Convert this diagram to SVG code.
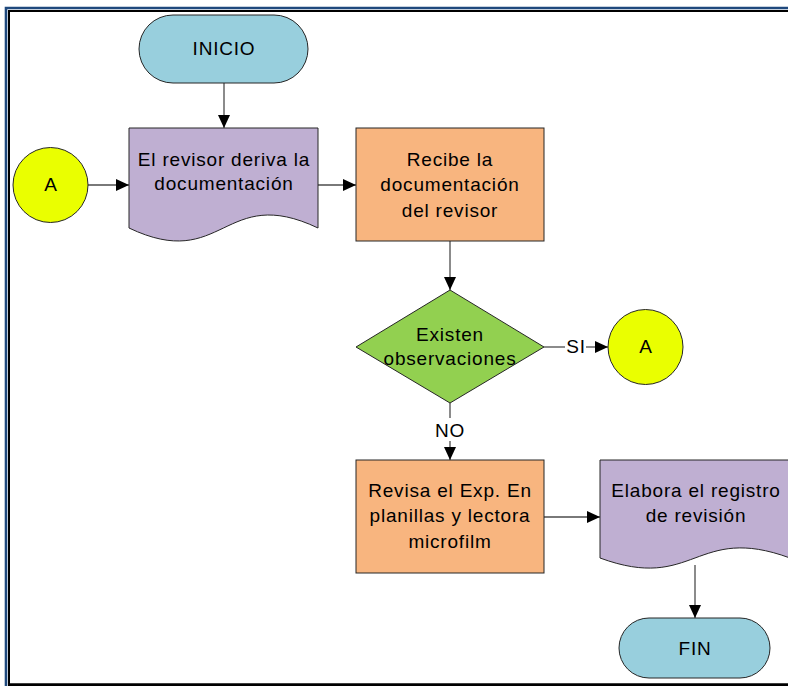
<svg xmlns="http://www.w3.org/2000/svg" width="788" height="686" viewBox="0 0 788 686">
<defs>
<marker id="ah" viewBox="0 0 13 12" refX="13" refY="6" markerWidth="13" markerHeight="12" markerUnits="userSpaceOnUse" orient="auto">
<path d="M0,0 L13,6 L0,12 Z" fill="#000"/>
</marker>
<style>
.t{font-family:"Liberation Sans",Arial,sans-serif;font-size:19px;letter-spacing:0.8px;fill:#000;text-anchor:middle}
.s{stroke:#262626;stroke-width:1}
.term{fill:#98CFDD}
.doc{fill:#BFAFD2}
.proc{fill:#F8B57F}
.dec{fill:#92D050}
.conn{fill:#EAFF00}
.c{fill:none;stroke:#4d4d4d;stroke-width:1.3}
</style>
</defs>
<rect width="788" height="686" fill="#fff"/>
<g id="frame" fill="none">
<path d="M6,686 V8 H788" stroke="#1F497D" stroke-width="2.6"/>
<path d="M9,686 V11 H788" stroke="#000" stroke-width="2"/>
<path d="M9,684.8 H788" stroke="#000" stroke-width="3"/>
</g>
<g id="connectors">
<path class="c" d="M224,83 V128" marker-end="url(#ah)"/>
<path class="c" d="M88,185 H129" marker-end="url(#ah)"/>
<path class="c" d="M318,185 H356" marker-end="url(#ah)"/>
<path class="c" d="M450,241 V290" marker-end="url(#ah)"/>
<path class="c" d="M544,347 H565"/>
<path class="c" d="M586,347 H608" marker-end="url(#ah)"/>
<path class="c" d="M450,403 V418"/>
<path class="c" d="M450,441 V460" marker-end="url(#ah)"/>
<path class="c" d="M544,517 H600" marker-end="url(#ah)"/>
<path class="c" d="M695,565 V618" marker-end="url(#ah)"/>
<text class="t" x="576" y="353">SI</text>
<text class="t" x="450" y="437">NO</text>
</g>
<g id="inicio">
<rect class="term s" x="139" y="15" width="169" height="68" rx="34" ry="34"/>
<text class="t" x="224" y="55">INICIO</text>
</g>
<g id="conectorA1">
<circle class="conn s" cx="50.5" cy="185" r="37.5"/>
<text class="t" x="51" y="191">A</text>
</g>
<g id="deriva">
<path class="doc s" d="M129,128 H318 V228 C223.5,183 223.5,273 129,228 Z"/>
<text class="t" x="224" y="166">El revisor deriva la</text>
<text class="t" x="224" y="190">documentación</text>
</g>
<g id="recibe">
<rect class="proc s" x="356" y="128" width="188" height="113"/>
<text class="t" x="450" y="166">Recibe la</text>
<text class="t" x="450" y="191">documentación</text>
<text class="t" x="450" y="217">del revisor</text>
</g>
<g id="decision">
<path class="dec s" d="M450,290 L544,347 L450,403 L356,347 Z"/>
<text class="t" x="450" y="341">Existen</text>
<text class="t" x="450" y="365">observaciones</text>
</g>
<g id="conectorA2">
<circle class="conn s" cx="645.5" cy="347" r="37.5"/>
<text class="t" x="646" y="353">A</text>
</g>
<g id="revisa">
<rect class="proc s" x="356" y="460" width="188" height="113"/>
<text class="t" x="450" y="497">Revisa el Exp. En</text>
<text class="t" x="450" y="522">planillas y lectora</text>
<text class="t" x="450" y="548">microfilm</text>
</g>
<g id="elabora">
<path class="doc s" d="M600,460 H790 V558 C695,523 695,593 600,558 Z"/>
<text class="t" x="696" y="497">Elabora el registro</text>
<text class="t" x="696" y="522">de revisión</text>
</g>
<g id="fin">
<rect class="term s" x="619" y="618" width="151" height="60" rx="30" ry="30"/>
<text class="t" x="695" y="655">FIN</text>
</g>
</svg>
